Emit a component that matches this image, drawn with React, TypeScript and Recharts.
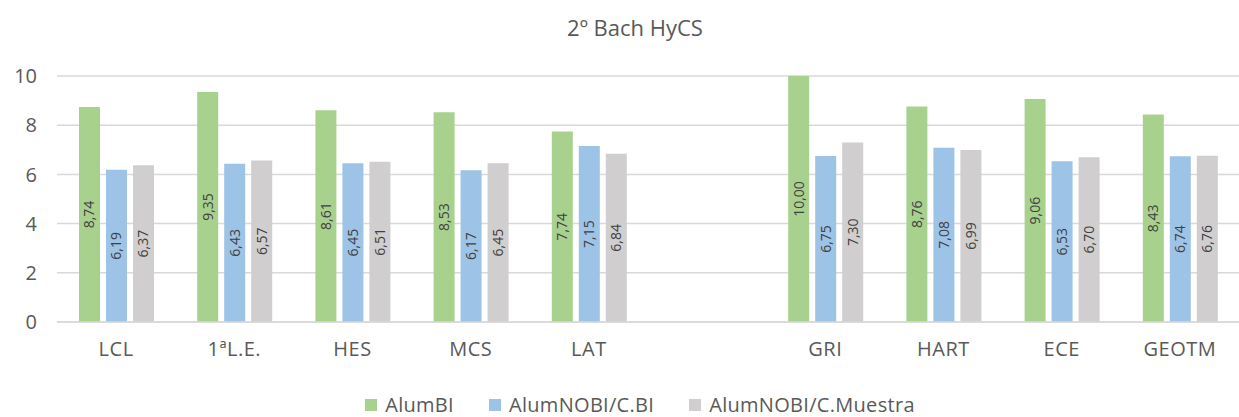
import React from 'react';
import {
  BarChart,
  Bar,
  XAxis,
  YAxis,
  CartesianGrid,
  LabelList
} from 'recharts';

const categories = ['LCL', '1ªL.E.', 'HES', 'MCS', 'LAT', '', 'GRI', 'HART', 'ECE', 'GEOTM'];
const alumBI = [8.74, 9.35, 8.61, 8.53, 7.74, null, 10.0, 8.76, 9.06, 8.43];
const alumNoBiCBI = [6.19, 6.43, 6.45, 6.17, 7.15, null, 6.75, 7.08, 6.53, 6.74];
const alumNoBiMuestra = [6.37, 6.57, 6.51, 6.45, 6.84, null, 7.3, 6.99, 6.7, 6.76];
const yTicks = [0, 2, 4, 6, 8, 10];

const series = [
  { key: 'AlumBI', color: '#a9d18e' },
  { key: 'AlumNOBI/C.BI', color: '#9dc3e6' },
  { key: 'AlumNOBI/C.Muestra', color: '#d0cece' }
];

const data = categories.map((name, i) => ({
  name,
  'AlumBI': alumBI[i],
  'AlumNOBI/C.BI': alumNoBiCBI[i],
  'AlumNOBI/C.Muestra': alumNoBiMuestra[i]
}));

const FONT = '"Open Sans", "Noto Sans", sans-serif';
const TEXT = '#595959';

const fmt = (v: any) => (v == null ? '' : Number(v).toFixed(2).replace('.', ','));

export default function App() {
  return (
    <div style={{ position: 'absolute', left: 0, top: 0, width: 1239, height: 417, background: '#fff', fontFamily: FONT }}>
      {/* title */}
      <div style={{ position: 'absolute', top: 12, left: 0, width: 1270, textAlign: 'center', fontSize: 22, color: TEXT }}>
        2º Bach HyCS
      </div>

      <BarChart
        width={1239}
        height={417}
        data={data}
        margin={{ top: 76, right: 0, left: 0, bottom: 65 }}
        barSize={21}
        barGap={6}
      >
        <CartesianGrid vertical={false} stroke="#d9d9d9" strokeWidth={1.5} />
        <XAxis
          dataKey="name"
          axisLine={{ stroke: '#d9d9d9', strokeWidth: 1.5 }}
          tickLine={false}
          tick={{ fill: TEXT, fontSize: 20, fontFamily: FONT, letterSpacing: 0.5 }}
          tickMargin={14}
          interval={0}
        />
        <YAxis
          width={57}
          domain={[0, 10]}
          ticks={yTicks}
          axisLine={false}
          tickLine={false}
          tick={{ fill: TEXT, fontSize: 20, fontFamily: FONT }}
          tickMargin={14}
        />
        {series.map(s => (
          <Bar key={s.key} dataKey={s.key} fill={s.color} isAnimationActive={false}>
            <LabelList
              dataKey={s.key}
              position="center"
              angle={-90}
              formatter={fmt}
              fill="#404040"
              fontSize={14}
              fontFamily={FONT}
            />
          </Bar>
        ))}
      </BarChart>

      {/* legend */}
      <div style={{ position: 'absolute', top: 391, left: 0, width: 1280, display: 'flex', justifyContent: 'center', gap: 35, fontSize: 20, letterSpacing: 0.3, color: TEXT }}>
        {series.map(s => (
          <div key={s.key} style={{ display: 'flex', alignItems: 'center' }}>
            <span style={{ display: 'inline-block', width: 12, height: 12, background: s.color, marginRight: 8 }} />
            <span>{s.key}</span>
          </div>
        ))}
      </div>
    </div>
  );
}
